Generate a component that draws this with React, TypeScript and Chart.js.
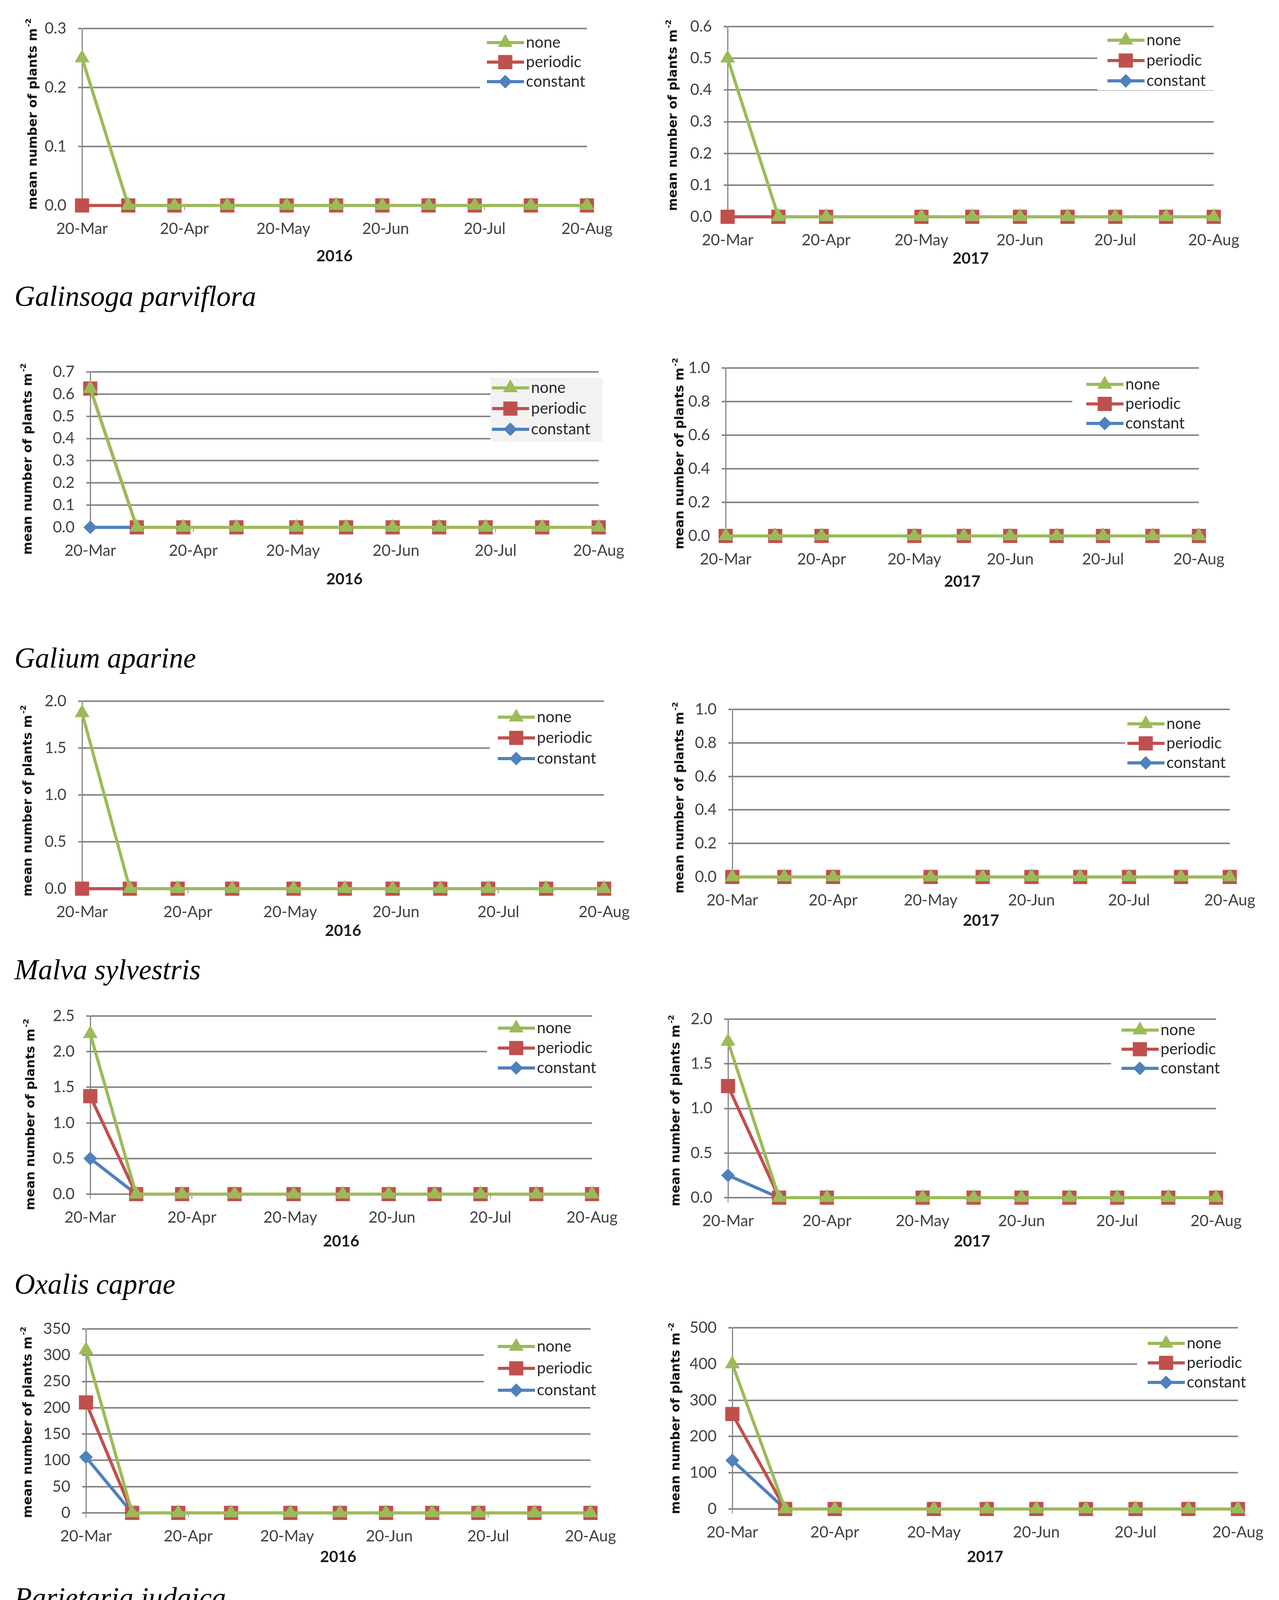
import React, { useEffect, useRef } from 'react';
import { Chart, registerables } from 'chart.js';

Chart.register(...registerables);

// ---------- axis / category data ----------
const DAYS_2016 = [0, 14, 28, 44, 62, 77, 91, 105, 119, 136, 153];
const DAYS_2017 = [0, 16, 31, 61, 77, 92, 107, 122, 138, 153];
const TICK_DAYS = [0, 31, 61, 92, 122, 153];
const TICK_LABELS = ['20-Mar', '20-Apr', '20-May', '20-Jun', '20-Jul', '20-Aug'];
const SERIES_LABELS = ['none', 'periodic', 'constant'];
const SPECIES = [
  'Galinsoga parviflora',
  'Galium aparine',
  'Malva sylvestris',
  'Oxalis caprae',
  'Parietaria judaica',
  'Plantago lagopus',
  'Polygonum aviculare',
];
const YEARS = ['2016', '2017'];
const Y_TITLE = 'mean number of plants m';
const Y_TITLE_SUP = '-2';

// ---------- series values ----------
const galinsoga2016None = [0.25, 0, 0, 0, 0, 0, 0, 0, 0, 0, 0];
const galinsoga2016Periodic = [0, 0, 0, 0, 0, 0, 0, 0, 0, 0, 0];
const galinsoga2016Constant = [0, 0, 0, 0, 0, 0, 0, 0, 0, 0, 0];
const galinsoga2017None = [0.5, 0, 0, 0, 0, 0, 0, 0, 0, 0];
const galinsoga2017Periodic = [0, 0, 0, 0, 0, 0, 0, 0, 0, 0];
const galinsoga2017Constant = [0, 0, 0, 0, 0, 0, 0, 0, 0, 0];

const galium2016None = [0.625, 0, 0, 0, 0, 0, 0, 0, 0, 0, 0];
const galium2016Periodic = [0.625, 0, 0, 0, 0, 0, 0, 0, 0, 0, 0];
const galium2016Constant = [0, 0, 0, 0, 0, 0, 0, 0, 0, 0, 0];
const galium2017None = [0, 0, 0, 0, 0, 0, 0, 0, 0, 0];
const galium2017Periodic = [0, 0, 0, 0, 0, 0, 0, 0, 0, 0];
const galium2017Constant = [0, 0, 0, 0, 0, 0, 0, 0, 0, 0];

const malva2016None = [1.875, 0, 0, 0, 0, 0, 0, 0, 0, 0, 0];
const malva2016Periodic = [0, 0, 0, 0, 0, 0, 0, 0, 0, 0, 0];
const malva2016Constant = [0, 0, 0, 0, 0, 0, 0, 0, 0, 0, 0];
const malva2017None = [0, 0, 0, 0, 0, 0, 0, 0, 0, 0];
const malva2017Periodic = [0, 0, 0, 0, 0, 0, 0, 0, 0, 0];
const malva2017Constant = [0, 0, 0, 0, 0, 0, 0, 0, 0, 0];

const oxalis2016None = [2.25, 0, 0, 0, 0, 0, 0, 0, 0, 0, 0];
const oxalis2016Periodic = [1.375, 0, 0, 0, 0, 0, 0, 0, 0, 0, 0];
const oxalis2016Constant = [0.5, 0, 0, 0, 0, 0, 0, 0, 0, 0, 0];
const oxalis2017None = [1.75, 0, 0, 0, 0, 0, 0, 0, 0, 0];
const oxalis2017Periodic = [1.25, 0, 0, 0, 0, 0, 0, 0, 0, 0];
const oxalis2017Constant = [0.25, 0, 0, 0, 0, 0, 0, 0, 0, 0];

const parietaria2016None = [310, 0, 0, 0, 0, 0, 0, 0, 0, 0, 0];
const parietaria2016Periodic = [210, 0, 0, 0, 0, 0, 0, 0, 0, 0, 0];
const parietaria2016Constant = [106, 0, 0, 0, 0, 0, 0, 0, 0, 0, 0];
const parietaria2017None = [400, 0, 0, 0, 0, 0, 0, 0, 0, 0];
const parietaria2017Periodic = [262, 0, 0, 0, 0, 0, 0, 0, 0, 0];
const parietaria2017Constant = [134, 0, 0, 0, 0, 0, 0, 0, 0, 0];

const plantago2016None = [23.5, 0, 0, 0, 0, 0, 0, 0, 0, 0, 0];
const plantago2016Periodic = [13.5, 0, 0, 0, 0, 0, 0, 0, 0, 0, 0];
const plantago2016Constant = [5.6, 0, 0, 0, 0, 0, 0, 0, 0, 0, 0];
const plantago2017None = [27, 0, 0, 0, 0, 0, 0, 0, 0, 0];
const plantago2017Periodic = [13.6, 0, 0, 0, 0, 0, 0, 0, 0, 0];
const plantago2017Constant = [1.9, 0, 0, 0, 0, 0, 0, 0, 0, 0];

const polygonum2016None = [0, 0.375, 0.375, 0.375, 0.375, 0.375, 0.375, 0.375, 0.375, 0.375, 0.375];
const polygonum2016Periodic = [0, 0.25, 0.375, 0.5, 0.5, 0.5, 0.25, 0.25, 0.25, 0, 0];
const polygonum2016Constant = [0.125, 0, 0, 0, 0, 0, 0, 0, 0, 0, 0];
const polygonum2017None = [0, 0.625, 0.625, 0.625, 0.625, 0.625, 0.625, 0.625, 0.625, 0.625];
const polygonum2017Periodic = [0, 0.375, 0.5, 0.625, 0.625, 0.25, 0, 0.375, 0.125, 0.125];
const polygonum2017Constant = [0.125, 0, 0, 0, 0, 0, 0, 0, 0, 0];

// ---------- styles ----------
const GREEN = '#9BBB59';
const RED = '#C0504D';
const BLUE = '#4F81BD';
const GRID = '#868686';
const TEXT = '#404040';
const SANS = 'Lato, "Open Sans", sans-serif';
const LINE_W = 8;

const PL = 200;
const PT = 60;
const PR = 110;
const PB = 170;
const YW = 150;
const XH = 100;

type SeriesSet = { none: number[]; periodic: number[]; constant: number[] };
type Panel = {
  year: number;
  days: number[];
  s: SeriesSet;
  yMax: number;
  yStep: number;
  dec: number;
  l: number; t: number; r: number; b: number;
  yt: [number, number];
  xtDy: number;
  lg: { x: number; y: number; gap: number; boxLeft: number; fill?: string; boxTop?: number; boxBottom?: number; boxRight?: number };
  order: string[];
};

const ORDER_A = ['none', 'periodic', 'constant'];
const ORDER_B = ['constant', 'periodic', 'none'];

const PANELS: Panel[] = [
  { year: 0, days: DAYS_2016, s: { none: galinsoga2016None, periodic: galinsoga2016Periodic, constant: galinsoga2016Constant }, yMax: 0.3, yStep: 0.1, dec: 1, l: 210, t: 73, r: 1502, b: 526, yt: [86, 292], xtDy: 130, lg: { x: 1246, y: 109, gap: 50, boxLeft: 1228 }, order: ORDER_A },
  { year: 1, days: DAYS_2017, s: { none: galinsoga2017None, periodic: galinsoga2017Periodic, constant: galinsoga2017Constant }, yMax: 0.6, yStep: 0.1, dec: 1, l: 1862, t: 68, r: 3106, b: 555, yt: [1724, 295], xtDy: 107, lg: { x: 2834, y: 103, gap: 52, boxLeft: 2808 }, order: ORDER_A },
  { year: 0, days: DAYS_2016, s: { none: galium2016None, periodic: galium2016Periodic, constant: galium2016Constant }, yMax: 0.7, yStep: 0.1, dec: 1, l: 231, t: 952, r: 1532, b: 1350, yt: [73, 1175], xtDy: 133, lg: { x: 1259, y: 993, gap: 53, boxLeft: 1255, fill: '#f2f2f2', boxTop: 967, boxBottom: 1130, boxRight: 1542 }, order: ORDER_A },
  { year: 1, days: DAYS_2017, s: { none: galium2017None, periodic: galium2017Periodic, constant: galium2017Constant }, yMax: 1.0, yStep: 0.2, dec: 1, l: 1857, t: 942, r: 3068, b: 1372, yt: [1741, 1161], xtDy: 117, lg: { x: 2780, y: 984, gap: 50, boxLeft: 2744 }, order: ORDER_A },
  { year: 0, days: DAYS_2016, s: { none: malva2016None, periodic: malva2016Periodic, constant: malva2016Constant }, yMax: 2.0, yStep: 0.5, dec: 1, l: 210, t: 1795, r: 1546, b: 2275, yt: [73, 2050], xtDy: 108, lg: { x: 1274, y: 1836, gap: 53, boxLeft: 1253 }, order: ORDER_A },
  { year: 1, days: DAYS_2017, s: { none: malva2017None, periodic: malva2017Periodic, constant: malva2017Constant }, yMax: 1.0, yStep: 0.2, dec: 1, l: 1874, t: 1816, r: 3147, b: 2245, yt: [1741, 2042], xtDy: 112, lg: { x: 2885, y: 1853, gap: 50, boxLeft: 2879 }, order: ORDER_A },
  { year: 0, days: DAYS_2016, s: { none: oxalis2016None, periodic: oxalis2016Periodic, constant: oxalis2016Constant }, yMax: 2.5, yStep: 0.5, dec: 1, l: 231, t: 2601, r: 1515, b: 3057, yt: [80, 2853], xtDy: 121, lg: { x: 1274, y: 2632, gap: 51, boxLeft: 1246 }, order: ORDER_A },
  { year: 1, days: DAYS_2017, s: { none: oxalis2017None, periodic: oxalis2017Periodic, constant: oxalis2017Constant }, yMax: 2.0, yStep: 0.5, dec: 1, l: 1863, t: 2609, r: 3112, b: 3066, yt: [1731, 2843], xtDy: 112, lg: { x: 2870, y: 2637, gap: 49, boxLeft: 2843 }, order: ORDER_A },
  { year: 0, days: DAYS_2016, s: { none: parietaria2016None, periodic: parietaria2016Periodic, constant: parietaria2016Constant }, yMax: 350, yStep: 50, dec: 0, l: 220, t: 3402, r: 1511, b: 3873, yt: [73, 3641], xtDy: 113, lg: { x: 1274, y: 3447, gap: 56, boxLeft: 1238 }, order: ORDER_A },
  { year: 1, days: DAYS_2017, s: { none: parietaria2017None, periodic: parietaria2017Periodic, constant: parietaria2017Constant }, yMax: 500, yStep: 100, dec: 0, l: 1874, t: 3399, r: 3168, b: 3863, yt: [1731, 3631], xtDy: 123, lg: { x: 2937, y: 3439, gap: 50, boxLeft: 2910 }, order: ORDER_A },
  { year: 0, days: DAYS_2016, s: { none: plantago2016None, periodic: plantago2016Periodic, constant: plantago2016Constant }, yMax: 25, yStep: 5, dec: 0, l: 220, t: 4228, r: 1507, b: 4671, yt: [84, 4438], xtDy: 111, lg: { x: 1227, y: 4268, gap: 54, boxLeft: 1196 }, order: ORDER_A },
  { year: 1, days: DAYS_2017, s: { none: plantago2017None, periodic: plantago2017Periodic, constant: plantago2017Constant }, yMax: 30, yStep: 5, dec: 0, l: 1905, t: 4247, r: 3164, b: 4631, yt: [1752, 4452], xtDy: 135, lg: { x: 2889, y: 4288, gap: 51, boxLeft: 2875 }, order: ORDER_A },
  { year: 0, days: DAYS_2016, s: { none: polygonum2016None, periodic: polygonum2016Periodic, constant: polygonum2016Constant }, yMax: 0.6, yStep: 0.1, dec: 1, l: 231, t: 5022, r: 1553, b: 5470, yt: [80, 5257], xtDy: 111, lg: { x: 1284, y: 5052, gap: 51, boxLeft: 1253 }, order: ORDER_B },
  { year: 1, days: DAYS_2017, s: { none: polygonum2017None, periodic: polygonum2017Periodic, constant: polygonum2017Constant }, yMax: 0.7, yStep: 0.1, dec: 1, l: 1863, t: 5014, r: 3080, b: 5467, yt: [1741, 5243], xtDy: 109, lg: { x: 2879, y: 5108, gap: 51, boxLeft: 2854 }, order: ORDER_B },
];

const SPECIES_Y = [759, 1685, 2483, 3288, 4091, 4895, 5697];

const STYLE: Record<string, { color: string; point: string; radius: number }> = {
  none: { color: GREEN, point: 'triangle', radius: 21 },
  periodic: { color: RED, point: 'rect', radius: 25 },
  constant: { color: BLUE, point: 'rectRot', radius: 17 },
};

function drawMarker(ctx: CanvasRenderingContext2D, kind: string, x: number, y: number, r: number, color: string) {
  ctx.save();
  ctx.fillStyle = color;
  ctx.strokeStyle = color;
  ctx.lineWidth = 1;
  ctx.beginPath();
  if (kind === 'triangle') {
    ctx.moveTo(x, y - r);
    ctx.lineTo(x + 0.866 * r, y + 0.5 * r);
    ctx.lineTo(x - 0.866 * r, y + 0.5 * r);
  } else if (kind === 'rect') {
    const s = Math.SQRT1_2 * r;
    ctx.rect(x - s, y - s, 2 * s, 2 * s);
  } else {
    ctx.moveTo(x - r, y);
    ctx.lineTo(x, y - r);
    ctx.lineTo(x + r, y);
    ctx.lineTo(x, y + r);
  }
  ctx.closePath();
  ctx.fill();
  ctx.stroke();
  ctx.restore();
}

function PanelChart({ p }: { p: Panel }) {
  const ref = useRef<HTMLCanvasElement | null>(null);
  const ox = p.l - PL;
  const oy = p.t - PT;
  const W = p.r - p.l + PL + PR;
  const H = p.b - p.t + PT + PB;

  useEffect(() => {
    if (!ref.current) return;
    const lg = p.lg;
    const boxTop = lg.boxTop ?? Math.max(lg.y - 26, p.t + 4);
    const boxBottom = lg.boxBottom ?? lg.y + 2 * lg.gap + 24;
    const boxRight = lg.boxRight ?? p.r + 30;

    const overlay = {
      id: 'overlay',
      beforeDatasetsDraw(chart: any) {
        const ctx = chart.ctx as CanvasRenderingContext2D;
        ctx.save();
        ctx.fillStyle = lg.fill ?? '#ffffff';
        ctx.fillRect(lg.boxLeft - ox, boxTop - oy, boxRight - lg.boxLeft, boxBottom - boxTop);
        ctx.restore();
      },
      afterDraw(chart: any) {
        const ctx = chart.ctx as CanvasRenderingContext2D;
        p.order.forEach((name, i) => {
          const st = STYLE[name];
          const cy = lg.y + i * lg.gap - oy;
          const x0 = lg.x - ox;
          ctx.save();
          ctx.strokeStyle = st.color;
          ctx.lineWidth = LINE_W;
          ctx.beginPath();
          ctx.moveTo(x0, cy);
          ctx.lineTo(x0 + 95, cy);
          ctx.stroke();
          ctx.restore();
          drawMarker(ctx, st.point, x0 + 47, cy, st.radius, st.color);
          ctx.save();
          ctx.fillStyle = '#262626';
          ctx.font = `40px ${SANS}`;
          ctx.textAlign = 'left';
          ctx.textBaseline = 'middle';
          ctx.fillText(name, x0 + 100, cy);
          ctx.restore();
        });
        ctx.save();
        ctx.fillStyle = '#1a1a1a';
        ctx.font = `bold 40px ${SANS}`;
        ctx.textAlign = 'center';
        ctx.textBaseline = 'middle';
        ctx.fillText(YEARS[p.year], (p.l + p.r) / 2 - ox, p.b + p.xtDy - oy);
        ctx.restore();
        ctx.save();
        ctx.translate(p.yt[0] - ox, p.yt[1] - oy);
        ctx.rotate(-Math.PI / 2);
        ctx.fillStyle = '#111111';
        ctx.textBaseline = 'middle';
        ctx.textAlign = 'left';
        ctx.font = 'bold 32px "DejaVu Sans", sans-serif';
        const wMain = ctx.measureText(Y_TITLE).width;
        ctx.font = 'bold 20px "DejaVu Sans", sans-serif';
        const wSup = ctx.measureText(Y_TITLE_SUP).width;
        const start = -(wMain + wSup + 3) / 2;
        ctx.font = 'bold 32px "DejaVu Sans", sans-serif';
        ctx.fillText(Y_TITLE, start, 0);
        ctx.font = 'bold 20px "DejaVu Sans", sans-serif';
        ctx.fillText(Y_TITLE_SUP, start + wMain + 3, -12);
        ctx.restore();
      },
    };

    const mk = (name: string) => {
      const st = STYLE[name];
      const vals = (p.s as any)[name] as number[];
      return {
        label: name,
        data: p.days.map((d, i) => ({ x: d, y: vals[i] })),
        borderColor: st.color,
        backgroundColor: st.color,
        borderWidth: LINE_W,
        pointStyle: st.point,
        pointRadius: st.radius,
        pointHoverRadius: st.radius,
        pointBorderWidth: 1,
        pointBackgroundColor: st.color,
        pointBorderColor: st.color,
        tension: 0,
        clip: false as any,
      };
    };

    const chart = new Chart(ref.current, {
      type: 'line',
      data: { datasets: SERIES_LABELS.map(mk) as any },
      plugins: [overlay as any],
      options: {
        responsive: false,
        animation: false,
        devicePixelRatio: 1,
        events: [],
        layout: { padding: { left: PL - YW, top: PT, right: PR, bottom: PB - XH } },
        plugins: {
          legend: { display: false },
          tooltip: { enabled: false },
          title: { display: false },
        },
        scales: {
          x: {
            type: 'linear',
            min: 0,
            max: 153,
            grid: { display: true, drawOnChartArea: false, drawTicks: true, tickLength: 12, color: GRID, lineWidth: 2 },
            border: { display: false },
            afterBuildTicks: (scale: any) => {
              scale.ticks = TICK_DAYS.map((v) => ({ value: v }));
            },
            afterFit: (scale: any) => {
              scale.height = XH;
            },
            ticks: {
              autoSkip: false,
              maxRotation: 0,
              minRotation: 0,
              padding: 24,
              color: TEXT,
              font: { family: SANS, size: 40 },
              callback: (v: any) => {
                const i = TICK_DAYS.indexOf(Number(v));
                return i >= 0 ? TICK_LABELS[i] : '';
              },
            },
          },
          y: {
            type: 'linear',
            min: 0,
            max: p.yMax,
            afterFit: (scale: any) => {
              scale.width = YW;
            },
            grid: { color: GRID, lineWidth: 4, tickLength: 10, drawTicks: true },
            border: { display: true, color: GRID, width: 3 },
            ticks: {
              stepSize: p.yStep,
              padding: 30,
              color: TEXT,
              font: { family: SANS, size: 40 },
              callback: (v: any) => Number(v).toFixed(p.dec),
            },
          },
        },
      } as any,
    });
    return () => chart.destroy();
  }, []);

  return (
    <canvas
      ref={ref}
      width={W}
      height={H}
      style={{ position: 'absolute', left: ox, top: oy, width: W, height: H }}
    />
  );
}

export default function App() {
  return (
    <div
      style={{
        position: 'absolute',
        left: 0,
        top: 0,
        width: 3273,
        height: 5782,
        background: '#ffffff',
        overflow: 'hidden',
      }}
    >
      {SPECIES.map((name, i) => (
        <div
          key={name}
          style={{
            position: 'absolute',
            left: 37,
            top: SPECIES_Y[i] - 37,
            fontFamily: '"Liberation Serif", "DejaVu Serif", serif',
            fontStyle: 'italic',
            fontSize: 73,
            lineHeight: '73px',
            color: '#000',
            whiteSpace: 'nowrap',
          }}
        >
          {name}
        </div>
      ))}
      {PANELS.map((p, i) => (
        <PanelChart key={i} p={p} />
      ))}
    </div>
  );
}
